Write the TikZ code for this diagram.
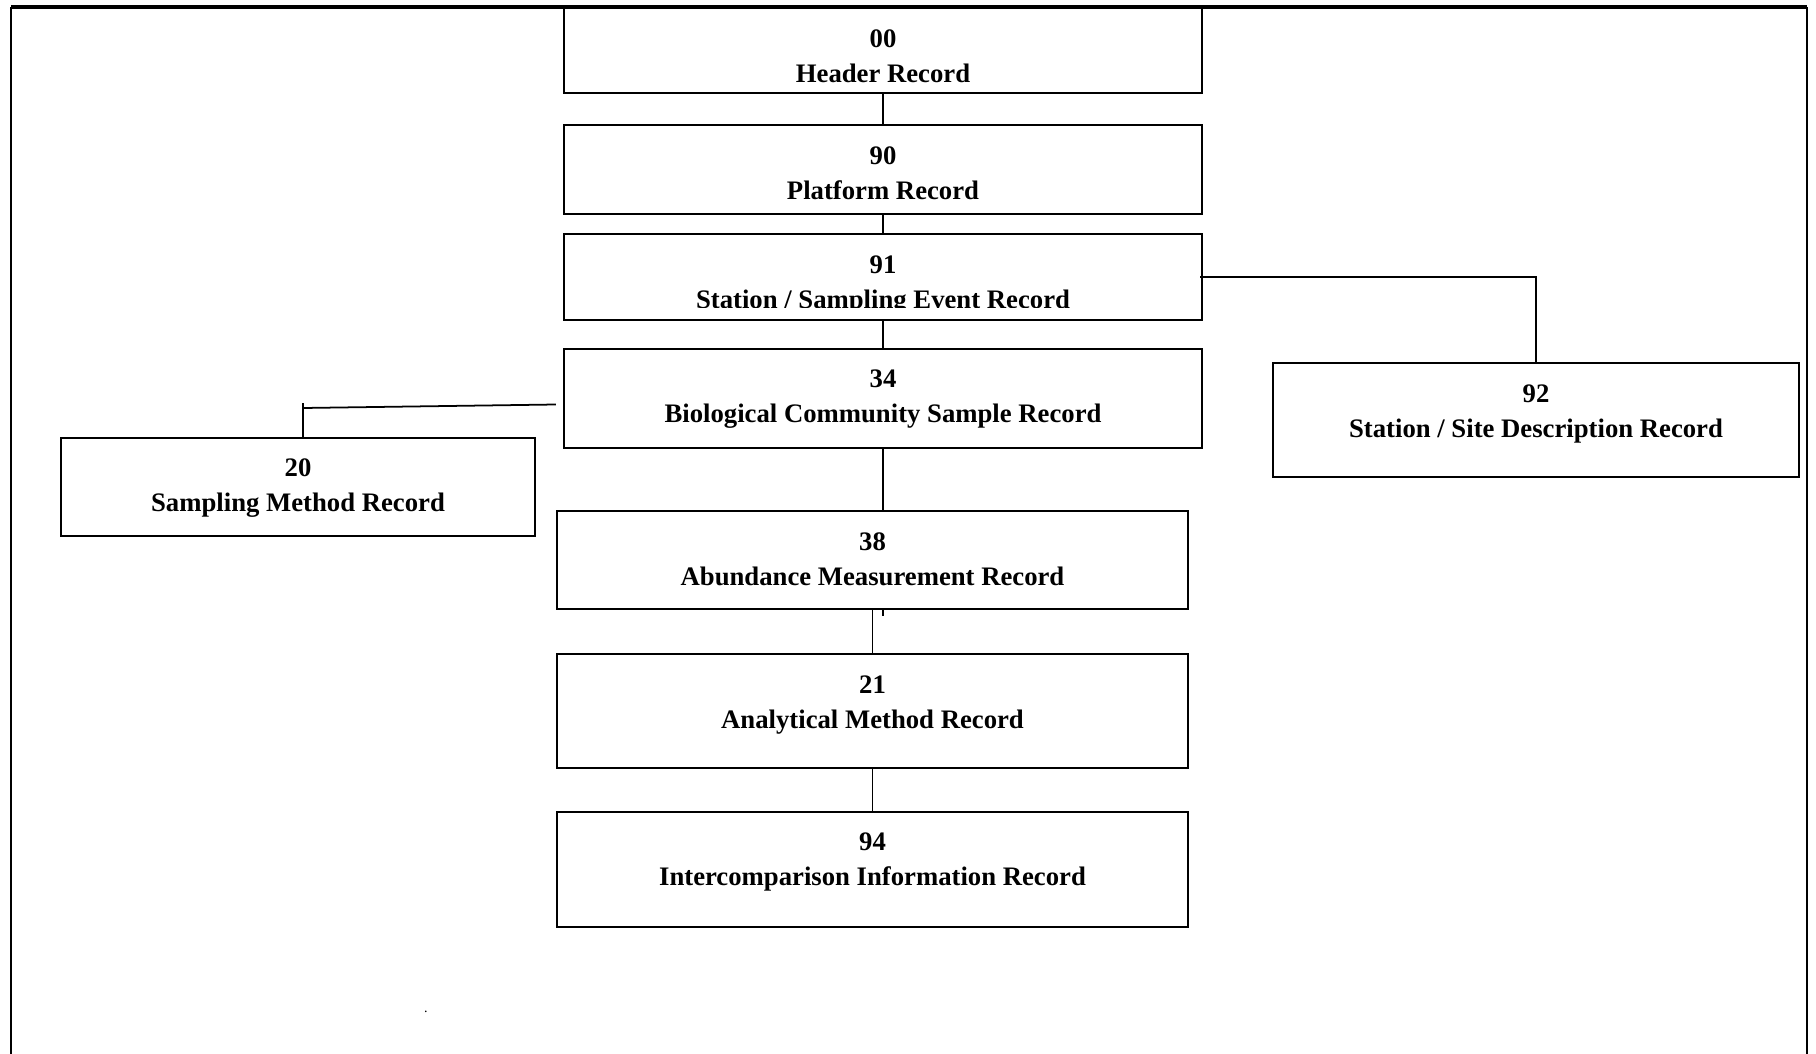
\documentclass[tikz,border=0pt]{standalone}
\usepackage{fontspec}
\setmainfont{Liberation Serif}
\usetikzlibrary{fit,calc}
\tikzset{
  rec/.style={draw=black, line width=1.3pt, fill=white, inner sep=0pt},
  lbl/.style={anchor=north, align=center, inner sep=0pt,
    font=\fontsize{15.2}{19.8}\selectfont\bfseries},
  conn/.style={draw=black, line width=1pt},
  frame/.style={draw=black, line width=1pt},
}
\begin{document}
\begin{tikzpicture}[x=0.02cm, y=-0.02cm]
\useasboundingbox (0,0) rectangle (1816,1054);
% frame
\draw[frame] (11,1054) -- (11,7);
\draw[frame] (1807,7) -- (1807,1054);
\draw[draw=black, line width=1.8pt] (11,7) -- (1807,7);
% boxes
\node[rec, fit={(564,8) (1202,93)}] (n00) {};
\node[rec, fit={(564,125) (1202,214)}] (n90) {};
\node[rec, fit={(564,234) (1202,320)}] (n91) {};
\node[rec, fit={(564,349) (1202,448)}] (n34) {};
\node[rec, fit={(61,438) (535,536)}] (n20) {};
\node[rec, fit={(1273,363) (1799,477)}] (n92) {};
\node[rec, fit={(557,511) (1188,609)}] (n38) {};
\node[rec, fit={(557,654) (1188,768)}] (n21) {};
\node[rec, fit={(557,812) (1188,927)}] (n94) {};
% labels
\node[lbl] (t00) at ([yshift=-0.46cm]n00.north) {00\\Header Record};
\node[lbl] (t90) at ([yshift=-0.46cm]n90.north) {90\\Platform Record};
\begin{scope}
\clip (564,234) rectangle (1202,308);
\node[lbl] (t91) at ([yshift=-0.46cm]n91.north) {91\\Station / Sampling Event Record};
\end{scope}
\node[lbl] (t34) at ([yshift=-0.44cm]n34.north) {34\\Biological Community Sample Record};
\node[lbl] (t20) at ([yshift=-0.44cm]n20.north) {20\\Sampling Method Record};
\node[lbl] (t92) at ([yshift=-0.46cm]n92.north) {92\\Station / Site Description Record};
\node[lbl] (t38) at ([yshift=-0.46cm]n38.north) {38\\Abundance Measurement Record};
\node[lbl] (t21) at ([yshift=-0.46cm]n21.north) {21\\Analytical Method Record};
\node[lbl] (t94) at ([yshift=-0.44cm]n94.north) {94\\Intercomparison Information Record};
% connectors
\draw[conn] (n00.south) -- (n90.north);
\draw[conn] (n90.south) -- (n91.north);
\draw[conn] (n91.south) -- (n34.north);
\draw[conn] (n34.south) -- (n34.south |- n38.north);
\coordinate (stub) at ($(n34.south |- n38.south)+(0,6)$);
\draw[conn] (n34.south |- n38.south) -- (stub);
\draw[conn] (n38.south) -- (n21.north);
\draw[conn] (n21.south) -- (n94.north);
\draw[conn] ([xshift=-0.06cm]n91.east) -| (n92.north);
\coordinate (c34l) at ($(n34.west)+(-7,6)$);
\coordinate (bend) at (303,408);
\coordinate (bendtop) at (303,403);
\draw[conn] (c34l) -- (bend);
\draw[conn] (bendtop) -- (bendtop |- n20.north);
% stray dot
\node[inner sep=0pt, font=\fontsize{8}{8}\selectfont] (dot) at (426,1012) {.};
\end{tikzpicture}
\end{document}
